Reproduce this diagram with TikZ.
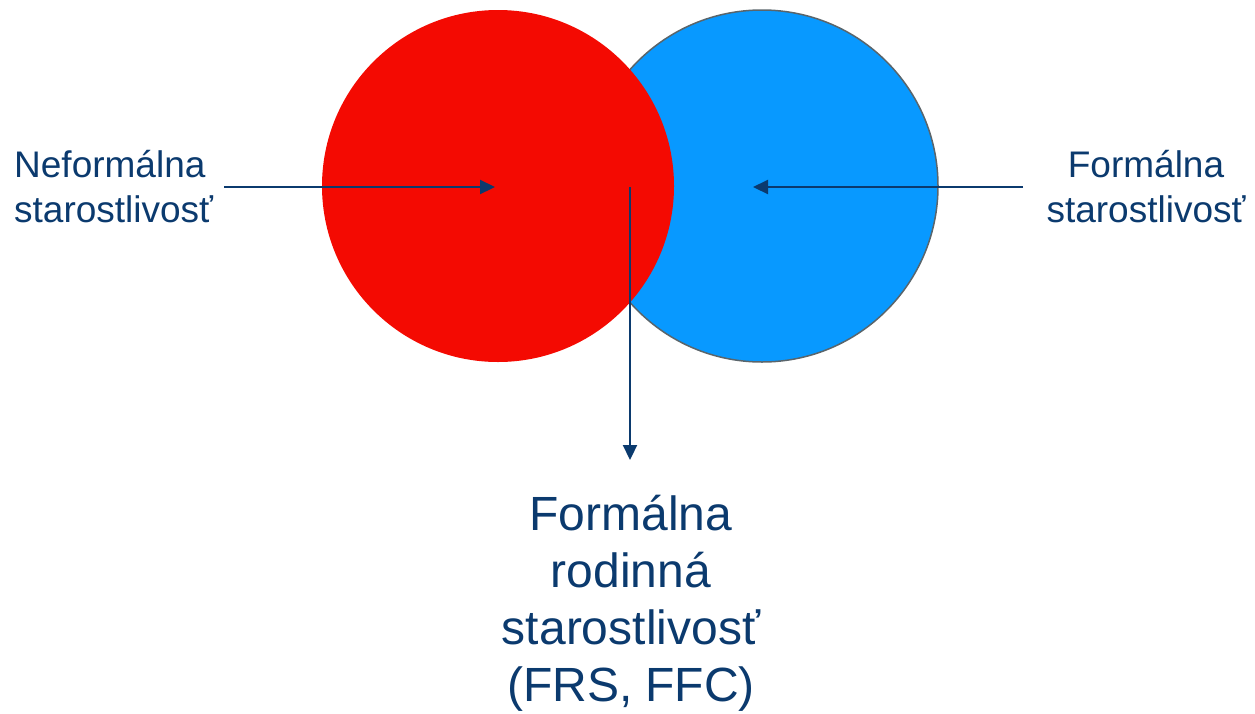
\documentclass[tikz,border=0pt]{standalone}
\usepackage{fontspec}
\setmainfont{Liberation Sans}
\usepackage{xcolor}
\usetikzlibrary{arrows.meta}
\definecolor{navy}{HTML}{0B3A6E}
\definecolor{redfill}{HTML}{F40A02}
\definecolor{bluefill}{HTML}{0899FF}
\definecolor{rim}{HTML}{5A656B}
\tikzset{
  pointer/.style={navy, line width=2.2pt, -{Triangle[length=15pt,width=14pt]}},
  label/.style={text=navy, inner sep=0pt, font=\fontsize{37}{45}\selectfont},
  biglabel/.style={text=navy, inner sep=0pt, align=center, font=\fontsize{48}{57}\selectfont}
}
\begin{document}
\begin{tikzpicture}[x=1pt,y=-1pt]
            \useasboundingbox (0,0) rectangle (1255,713);
            % the two circles, red one on top
            \node [circle, draw=rim, line width=1.5pt, fill=bluefill, minimum size=352pt, inner sep=0pt] (formal) at (762,186) {};
            \node [circle, fill=redfill, minimum size=352pt, inner sep=0pt] (informal) at (498,186) {};
            % labels
            \node [label, align=left, anchor=west] (informaltext) at (14,187) {Neformálna\\starostlivosť};
            \node [label, align=center] (formaltext) at (1146,187) {Formálna\\starostlivosť};
            \node [biglabel, anchor=north] (familytext) at (631,495) {Formálna\\rodinná\\starostlivosť\\(FRS, FFC)};
            % pointers
            \coordinate (informaltip) at (495,187);
            \coordinate (formaltip) at (753,187);
            \coordinate (overlap) at (630,187);
            \coordinate (overlaptip) at (630,460);
            \coordinate (informalstart) at (224,187);
            \coordinate (formalstart) at (1023,187);
            \draw [pointer] (informalstart) -- (informaltip);
            \draw [pointer] (formalstart) -- (formaltip);
            \draw [pointer] (overlap) -- (overlaptip);
\end{tikzpicture}
\end{document}
